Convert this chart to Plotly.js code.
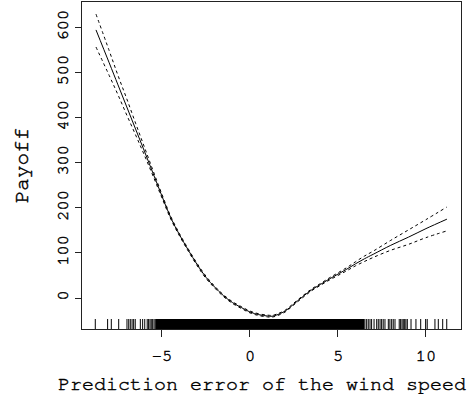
<!DOCTYPE html>
<html>
<head>
<meta charset="utf-8">
<script src="https://cdn.plot.ly/plotly-3.0.1.min.js"></script>
<style>html,body{margin:0;padding:0;background:#fff;}#chart{width:472px;height:400px;}
#chart svg text{stroke:#000;stroke-width:0.45px;}</style>
</head>
<body>
<div id="chart"></div>
<script>
// Fitted payoff curve (solid) and its confidence band (dashed)
const errX = [-8.75,-8,-7.5,-7,-6.5,-6,-5.5,-5,-4.5,-4,-3.5,-3,-2.5,-2,-1.5,-1,-0.5,0,0.5,1,1.25,1.5,2,2.5,3,3.5,4,4.5,5,5.5,6,6.5,7,8,9,10,11.19];
const payoff = [595,522,473,424,375,326,276,226,178,140,106,74,46,24,5,-10,-21,-31,-37,-40,-40.5,-38,-29,-13,3,18,30,42,53,64,76,87,97,117,135,154,175];
const upperBand = [630,549,494,442,388,335,282,230,181,142.5,108.5,76.5,48.5,26,7,-8,-19,-29,-35,-38,-38.5,-36,-27,-11,5,20,32,44.5,56,67.5,80.5,93,104,128,151,174,202];
const lowerBand = [557,494,451,406,362,317,270,222,175,137.5,103.5,71.5,43.5,22,3,-12,-23,-33,-39,-42,-42.5,-40,-31,-15,1,16,28,39.5,50,60.5,71.5,81,90,106,119,134,149];

// Rug of observed prediction errors
const rugSparseLeft = [-8.79,-8.09,-7.88,-7.46,-6.99,-6.89,-6.80,-6.70,-6.61,-6.52,-6.23,-6.10,-5.98,-5.84,-5.76,-5.68,-5.61,-5.53,-5.45,-5.38];
const rugDense = [-5.30,-5.25,-5.20,-5.15,-5.10,-5.05,-5.00,-4.95,-4.90,-4.85,-4.80,-4.75,-4.70,-4.65,-4.60,-4.55,-4.50,-4.45,-4.40,-4.35,-4.30,-4.25,-4.20,-4.15,-4.10,-4.05,-4.00,-3.95,-3.90,-3.85,-3.80,-3.75,-3.70,-3.65,-3.60,-3.55,-3.50,-3.45,-3.40,-3.35,-3.30,-3.25,-3.20,-3.15,-3.10,-3.05,-3.00,-2.95,-2.90,-2.85,-2.80,-2.75,-2.70,-2.65,-2.60,-2.55,-2.50,-2.45,-2.40,-2.35,-2.30,-2.25,-2.20,-2.15,-2.10,-2.05,-2.00,-1.95,-1.90,-1.85,-1.80,-1.75,-1.70,-1.65,-1.60,-1.55,-1.50,-1.45,-1.40,-1.35,-1.30,-1.25,-1.20,-1.15,-1.10,-1.05,-1.00,-0.95,-0.90,-0.85,-0.80,-0.75,-0.70,-0.65,-0.60,-0.55,-0.50,-0.45,-0.40,-0.35,-0.30,-0.25,-0.20,-0.15,-0.10,-0.05,0.00,0.05,0.10,0.15,0.20,0.25,0.30,0.35,0.40,0.45,0.50,0.55,0.60,0.65,0.70,0.75,0.80,0.85,0.90,0.95,1.00,1.05,1.10,1.15,1.20,1.25,1.30,1.35,1.40,1.45,1.50,1.55,1.60,1.65,1.70,1.75,1.80,1.85,1.90,1.95,2.00,2.05,2.10,2.15,2.20,2.25,2.30,2.35,2.40,2.45,2.50,2.55,2.60,2.65,2.70,2.75,2.80,2.85,2.90,2.95,3.00,3.05,3.10,3.15,3.20,3.25,3.30,3.35,3.40,3.45,3.50,3.55,3.60,3.65,3.70,3.75,3.80,3.85,3.90,3.95,4.00,4.05,4.10,4.15,4.20,4.25,4.30,4.35,4.40,4.45,4.50,4.55,4.60,4.65,4.70,4.75,4.80,4.85,4.90,4.95,5.00,5.05,5.10,5.15,5.20,5.25,5.30,5.35,5.40,5.45,5.50,5.55,5.60,5.65,5.70,5.75,5.80,5.85,5.90,5.95,6.00,6.05,6.10,6.15,6.20,6.25,6.30,6.35,6.40,6.45];
const rugSparseRight = [6.53,6.63,6.72,6.82,6.91,7.05,7.20,7.29,7.39,7.48,7.57,7.67,7.86,7.95,8.05,8.14,8.24,8.48,8.56,8.64,8.71,8.79,8.86,8.94,9.15,9.43,9.70,9.98,10.07,10.51,10.70,10.95,11.18];

const xTicks = [-5,0,5,10];
const xTickText = ['\u22125','0','5','10'];
const yTicks = [0,100,200,300,400,500,600];
const yTickText = ['0','100','200','300','400','500','600'];
const xTitle = 'Prediction error of the wind speed';
const yTitle = 'Payoff';

const xRange = [-9.545, 11.99];
const yRange = [-68.8, 657];
const plotH = 327;
const rugTop = yRange[0] + 10 * (yRange[1]-yRange[0]) / plotH;

function rugTrace(vals, w){
  const x=[], y=[];
  vals.forEach(v=>{ x.push(v,v,null); y.push(yRange[0], rugTop, null); });
  return {x:x, y:y, type:'scatter', mode:'lines', line:{color:'#000', width:w}, hoverinfo:'skip'};
}

const traces = [
  {x:errX, y:upperBand, type:'scatter', mode:'lines', line:{color:'#000', width:1, dash:'3px,3px', shape:'spline', smoothing:1}},
  {x:errX, y:lowerBand, type:'scatter', mode:'lines', line:{color:'#000', width:1, dash:'3px,3px', shape:'spline', smoothing:1}},
  {x:errX, y:payoff, type:'scatter', mode:'lines', line:{color:'#000', width:1, shape:'spline', smoothing:1}},
  rugTrace(rugSparseLeft.concat(rugSparseRight), 1),
  rugTrace(rugDense, 1.8)
];

const fam = '"Nimbus Mono PS", FreeMono, Courier, monospace';
const layout = {
  width:472, height:400,
  margin:{l:82, r:11, t:2, b:71, pad:0},
  paper_bgcolor:'#fff', plot_bgcolor:'#fff',
  showlegend:false,
  font:{family:fam, color:'#000'},
  xaxis:{
    range:xRange, tickmode:'array', tickvals:xTicks, ticktext:xTickText,
    ticks:'outside', ticklen:7, tickwidth:1, tickcolor:'#222',
    showline:true, mirror:true, linecolor:'#222', linewidth:1,
    showgrid:false, zeroline:false, automargin:false,
    tickfont:{family:fam, size:17, color:'#000'}, ticklabelstandoff:4
  },
  yaxis:{
    range:yRange, tickmode:'array', tickvals:yTicks, ticktext:yTickText, tickangle:-90,
    ticks:'outside', ticklen:6, tickwidth:1, tickcolor:'#222',
    showline:true, mirror:true, linecolor:'#222', linewidth:1,
    showgrid:false, zeroline:false, automargin:false,
    tickfont:{family:fam, size:17, color:'#000'},
    title:{text:yTitle, font:{family:fam, size:21, color:'#000'}, standoff:19}
  },
  annotations:[{
    text:xTitle, xref:'paper', yref:'paper', x:(261.5-82)/379, y:-(384-329)/327,
    xanchor:'center', yanchor:'middle', showarrow:false,
    font:{family:fam, size:20, color:'#000'}
  }]
};

Plotly.newPlot('chart', traces, layout, {staticPlot:true, displayModeBar:false});
</script>
</body>
</html>
